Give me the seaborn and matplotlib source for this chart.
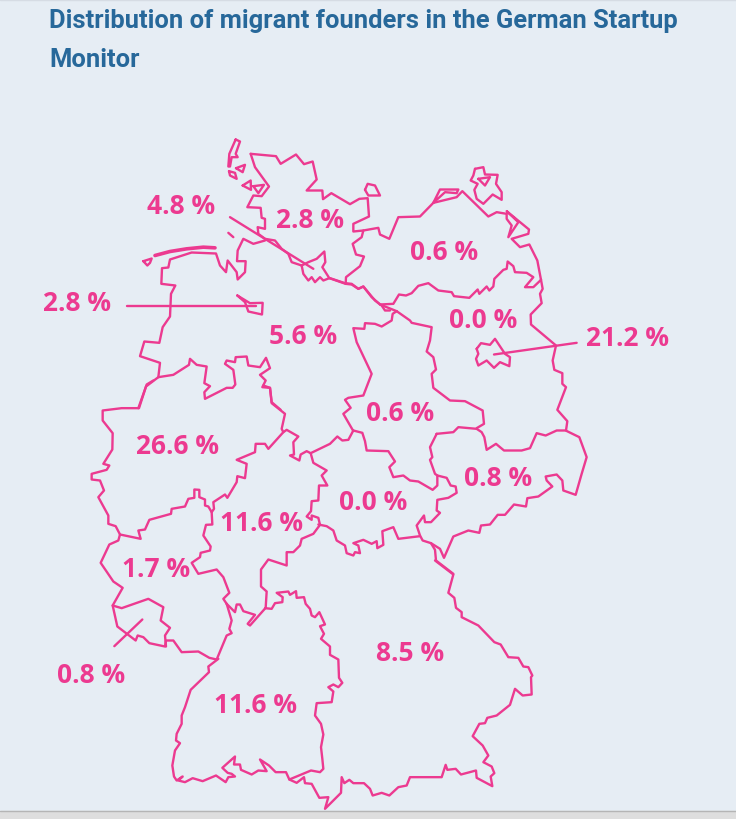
import numpy as np
import pandas as pd
import matplotlib
matplotlib.use("Agg")
import matplotlib.pyplot as plt
import seaborn as sns

TITLE = "Distribution of migrant founders in the German Startup\nMonitor"
states = ["Hamburg", "Schleswig-Holstein", "Mecklenburg-Vorpommern", "Bremen", "Lower Saxony",
          "Brandenburg", "Berlin", "Saxony-Anhalt", "North Rhine-Westphalia", "Saxony",
          "Thuringia", "Hesse", "Rhineland-Palatinate", "Saarland", "Bavaria", "Baden-Wuerttemberg"]
shares = [4.8, 2.8, 0.6, 2.8, 5.6, 0.0, 21.2, 0.6, 26.6, 0.8, 0.0, 11.6, 1.7, 0.8, 8.5, 11.6]
label_x = [181, 310, 444, 77, 303, 483, 627, 400, 177, 498, 373, 262, 156, 91, 410, 255]
label_y = [205, 219, 250, 302, 335, 319, 337, 412, 445, 477, 501, 522, 568, 674, 652, 704]

# Outlines traced from enlarged views; each view has its own origin (scale 1/3)
V1, V2, V3, V4, V5 = (90, 130), (330, 150), (90, 380), (300, 400), (160, 560)

sh_coast = [(482,70),(558,77),(572,100),(618,72),(642,101),(668,93),(680,147),(650,180),(697,180),(699,206),(724,188),(780,221),(808,205),(833,203),(837,258),(790,280),(790,303),(820,300),(815,320),(788,340),(798,372),(822,378),(810,407),(768,440),(767,460)]
sh_west = [(482,70),(495,110),(537,168),(515,197),(490,195),(472,230),(512,232),(515,262),(525,265),(525,295),(503,290),(505,310),(525,325),(555,330),(575,355),(595,370),(605,395),(635,405)]
hamburg = [(635,405),(655,395),(680,385),(703,363),(706,395),(697,410),(718,443),(700,450),(690,440),(675,455),(665,440),(655,450),(640,430),(635,405)]
elbe = [(718,443),(767,460),(785,462),(805,475),(820,468),(855,510),(875,525),(885,540),(900,540)]
ls_coast = [(145,833),(168,768),(205,740),(210,697),(150,677),(163,633),(208,637),(218,590),(240,558),(243,490),(256,465),(214,460),(216,413),(235,411),(240,387),(305,366),(378,369),(390,405),(408,425),(413,390),(440,425),(443,447),(465,425),(467,392),(441,392),(443,360),(460,325),(490,340),(525,330)]
fris_1 = [(160,392),(185,384),(180,397),(172,405),(160,392)]
fris_2 = [(195,375),(240,363),(290,355),(340,350),(375,352)]
fris_3 = [(415,307),(430,320)]
nf_1 = [(437,27),(450,33),(437,70),(443,80),(425,80),(420,108),(415,108),(418,70),(437,27)]
nf_2 = [(438,113),(465,103),(458,125),(438,113)]
nf_3 = [(417,122),(435,127),(440,145),(420,135),(417,122)]
nf_4 = [(458,165),(482,150),(483,178),(458,165)]
nf_5 = [(490,167),(522,163),(505,188),(490,167)]
fehmarn = [(825,178),(833,160),(855,165),(870,195),(835,195),(825,178)]
bremen = [(442,495),(480,518),(518,517),(516,552),(475,543),(465,515),(442,495)]
ls_south = [(205,740),(250,733),(297,703),(300,685),(320,703),(350,708),(343,758),(360,767),(343,785),(345,805),(410,772),(428,772),(436,762),(430,718),(405,700),(410,690),(435,695),(437,680),(470,678),(475,705),(510,710),(528,682),(540,713),(510,733),(527,750),(517,770),(540,772),(545,815),(572,838)]

hesse_ne = [(520,15),(540,22),(545,68),(585,100),(575,145),(580,155),(590,148),(625,168),(610,185),(612,222),(600,225),(628,240),(632,222),(650,212),(662,218),(720,190),(742,168),(757,180),(775,178),(790,150)]
hesse_e = [(662,218),(670,247),(710,270),(695,285),(712,315),(687,315),(685,360),(665,362),(663,392),(650,408),(665,418),(665,405),(685,412),(690,433)]
hesse_s = [(690,433),(670,460),(635,475),(630,495),(610,515),(590,515),(590,555),(535,537),(513,567),(513,618),(530,633),(527,682)]
hesse_w = [(410,670),(435,695),(440,672),(450,672),(460,692),(495,703),(473,730),(480,735),(527,682)]
rp_hesse = [(410,670),(400,655),(418,637),(400,590),(380,567),(325,580),(305,547),(330,530),(332,517),(360,510),(362,498),(340,465),(348,433),(367,432),(365,395),(372,385),(370,365),(405,342),(412,352),(440,305),(442,287),(465,293),(470,250),(440,238),(495,215),(497,190),(525,190),(535,205),(580,155)]
nrw = [(190,0),(170,12),(147,83),(95,83),(38,90),(38,120),(68,158),(67,207),(40,250),(58,255),(50,268),(5,280),(5,297),(30,300),(42,330),(25,350),(55,405),(55,430),(77,437),(90,462),(152,475),(145,450),(165,447),(178,418),(243,400),(245,385),(285,378),(295,355),(313,352),(313,327),(328,328),(328,350),(345,357),(345,375),(355,378),(365,395)]
rp = [(90,462),(85,480),(58,492),(32,547),(70,603),(98,622),(68,675),(82,738),(137,780),(143,765),(160,770),(178,788),(225,798),(228,780),(250,780),(275,815),(325,813),(358,832),(380,837),(410,765),(425,758),(418,745),(425,720),(410,670)]
saar = [(68,675),(95,683),(175,655),(220,680),(212,720),(240,742),(225,765),(228,798)]

mv_coast = [(633,388),(622,330),(598,282),(570,290),(545,265),(595,250),(597,237),(530,182),(565,215),(535,260),(545,225),(530,205),(530,190),(500,185),(475,198),(397,122),(380,140),(310,157),(270,198),(205,200),(178,265),(150,252),(145,232),(100,240)]
darss = [(310,157),(330,117),(385,117),(380,128),(345,125),(310,157)]
ruegen = [(435,55),(460,50),(465,72),(503,73),(498,100),(515,125),(515,148),(488,132),(460,160),(440,145),(433,118),(443,100),(422,90),(430,75),(435,55)]
ruegen_in = [(445,85),(480,80),(465,105),(445,85)]
mv_south = [(150,462),(190,460),(207,432),(228,435),(245,428),(265,406),(295,398),(325,420),(365,425),(372,437),(418,442),(443,417),(448,430),(470,408),(478,420),(490,408),(493,385),(520,358),(530,355),(533,333),(550,347),(555,365),(590,367),(610,380),(585,410),(610,410),(633,388)]
bb_east = [(633,388),(638,415),(630,430),(635,458),(602,492),(603,522),(678,585),(668,630),(673,658),(697,668),(697,700),(708,710),(682,778),(712,812),(708,840)]
elbe_2 = [(0,383),(45,398),(65,400),(85,415),(100,408),(125,440),(150,462),(190,478),(200,482)]
ls_st = [(69,840),(40,790),(62,772),(45,748),(55,742),(100,735),(125,670),(80,575),(70,533),(103,535),(105,518),(135,520),(155,528),(185,510),(188,490),(200,482)]
st_bb = [(200,482),(240,510),(245,517),(305,530),(300,570),(290,603),(310,620),(318,657),(305,670),(310,712),(360,750),(405,752),(458,780),(462,820),(440,833)]
berlin = [(440,595),(453,578),(480,583),(495,565),(525,610),(540,620),(538,647),(510,635),(492,652),(470,630),(445,645),(438,625),(445,610),(440,595)]

saxony = [(410,100),(460,95),(475,80),(530,85),(545,95),(553,110),(560,148),(588,130),(612,150),(665,150),(690,143),(710,98),(737,105),(770,90),(797,90),(838,110),(860,170),(845,220),(827,283),(790,270),(787,240),(770,222),(737,228),(740,240),(757,258),(715,288),(682,293),(678,318),(642,312),(615,343),(593,343),(570,372),(543,375),(538,397),(505,390),(460,408),(432,472),(420,445),(393,428),(368,420),(360,405),(350,375),(372,345),(375,365),(393,365),(420,337),(410,330),(412,298),(445,292),(470,277),(467,258),(452,255),(440,232),(412,225),(405,220),(390,178),(397,170),(390,140),(410,100)]
st_th = [(160,90),(187,97),(195,122),(200,150),(265,152),(285,183),(268,200),(280,230),(310,225),(330,240),(355,243),(398,268),(412,255),(412,225)]
th_south = [(55,372),(80,377),(100,390),(110,420),(135,435),(140,458),(160,465),(165,455),(180,458),(175,435),(160,428),(190,418),(215,430),(230,422),(232,443),(250,433),(247,392),(280,380),(295,415),(360,407)]
bav_ne = [(393,428),(405,448),(408,480),(460,520)]

bw = [(175,295),(145,318),(147,335),(92,388),(75,440),(65,465),(65,490),(50,520),(48,540),(60,548),(45,570),(37,615),(42,648),(50,660),(68,648),(55,660),(75,665),(98,653),(128,662),(168,645),(197,665),(205,650),(225,648),(215,640),(203,637),(187,622),(225,588),(222,612),(240,612),(243,628),(275,642),(295,630),(320,632),(300,597),(327,615),(347,635),(378,635),(388,657),(453,630),(480,635),(490,625),(487,595),(483,560),(490,522),(483,490),(465,465),(470,428),(515,425),(520,393),(505,380),(520,372),(535,380),(547,367),(537,352),(535,297),(510,283),(510,258),(483,235),(492,220),(480,197),(495,192),(478,155),(465,170),(455,165),(450,145),(437,130),(432,110),(410,112),(408,92),(390,103),(385,93),(350,97),(368,110),(367,125),(345,128),(335,145),(315,143)]
bavaria = [(388,657),(410,667),(432,650),(435,668),(455,670),(478,712),(505,710),(495,745),(543,697),(545,650),(553,668),(568,658),(580,668),(612,668),(630,685),(638,705),(665,697),(688,705),(715,680),(740,675),(750,650),(845,650),(857,613),(862,628),(887,625),(903,642),(948,630),(950,652),(997,677),(992,648),(1003,638),(995,618),(970,605),(985,585),(968,555),(938,527),(958,490),(975,488),(982,472),(1010,465),(1050,433),(1065,385),(1088,405),(1115,402),(1113,350),(1117,345),(1105,320),(1090,318),(1075,292),(1045,290),(1022,252),(1003,245),(955,195),(905,170),(905,155),(888,142),(883,112),(865,97),(880,42),(825,0)]

# Leader lines
lead_hh = [(420,260),(670,415)]
lead_hb = [(110,525),(498,525)]
lead_be = [(492,612),(740,577)]
lead_sl = [(73,797),(157,717)]

groups = [
    (V1, [sh_coast, sh_west, hamburg, elbe, ls_coast, fris_1, fris_3, nf_1, nf_2, nf_3, nf_4, nf_5, fehmarn, bremen, ls_south, lead_hh, lead_hb]),
    (V3, [hesse_ne, hesse_e, hesse_s, hesse_w, rp_hesse, nrw, rp, saar, lead_sl]),
    (V2, [mv_coast, darss, ruegen, ruegen_in, mv_south, bb_east, elbe_2, ls_st, st_bb, berlin, lead_be]),
    (V4, [saxony, st_th, th_south, bav_ne]),
    (V5, [bw, bavaria]),
]

rows = []
pid = 0
for origin, paths in groups:
    for path in paths:
        for i, (x, y) in enumerate(path):
            rows.append((pid, i, origin[0] + x / 3, origin[1] + y / 3))
        pid += 1
df = pd.DataFrame(rows, columns=["path", "order", "x", "y"])

BG = "#E6EDF4"
PINK = "#EC3A90"
BLUE = "#27689A"

sns.set_theme(style="white", rc={"figure.facecolor": BG, "axes.facecolor": BG})
fig = plt.figure(figsize=(7.36, 8.2), dpi=100)
ax = fig.add_axes([0, 0, 1, 1])
sns.lineplot(data=df, x="x", y="y", units="path", estimator=None, sort=False,
             color=PINK, linewidth=1.7, ax=ax, legend=False)
# Thick dashes of the East Frisian chain
fr = pd.DataFrame([(V1[0] + x / 3, V1[1] + y / 3) for x, y in fris_2], columns=["x", "y"])
sns.lineplot(data=fr, x="x", y="y", estimator=None, sort=False, color=PINK, linewidth=2.6, ax=ax, legend=False)

ax.set_xlim(0, 736)
ax.set_ylim(818.5, -1.5)
ax.axis("off")
ax.axhspan(810, 820, color="#DEDEDE", zorder=0)
ax.axhline(810, color="#B5B5B5", linewidth=1, zorder=1)
ax.axhspan(-2, -0.5, color="#D6DCE4", zorder=0)

for s, v, x, y in zip(states, shares, label_x, label_y):
    ax.text(x, y + 0.5, f"{v:.1f} %", color=PINK, fontsize=19, fontweight="bold",
            family="Open Sans", ha="center", va="center", gid=s)

ax.text(49, 39, TITLE, color=BLUE, fontsize=18.4, fontweight="bold", family="Roboto",
        ha="left", va="center", linespacing=1.76)

fig.savefig("out.png", dpi=100, facecolor=BG)
